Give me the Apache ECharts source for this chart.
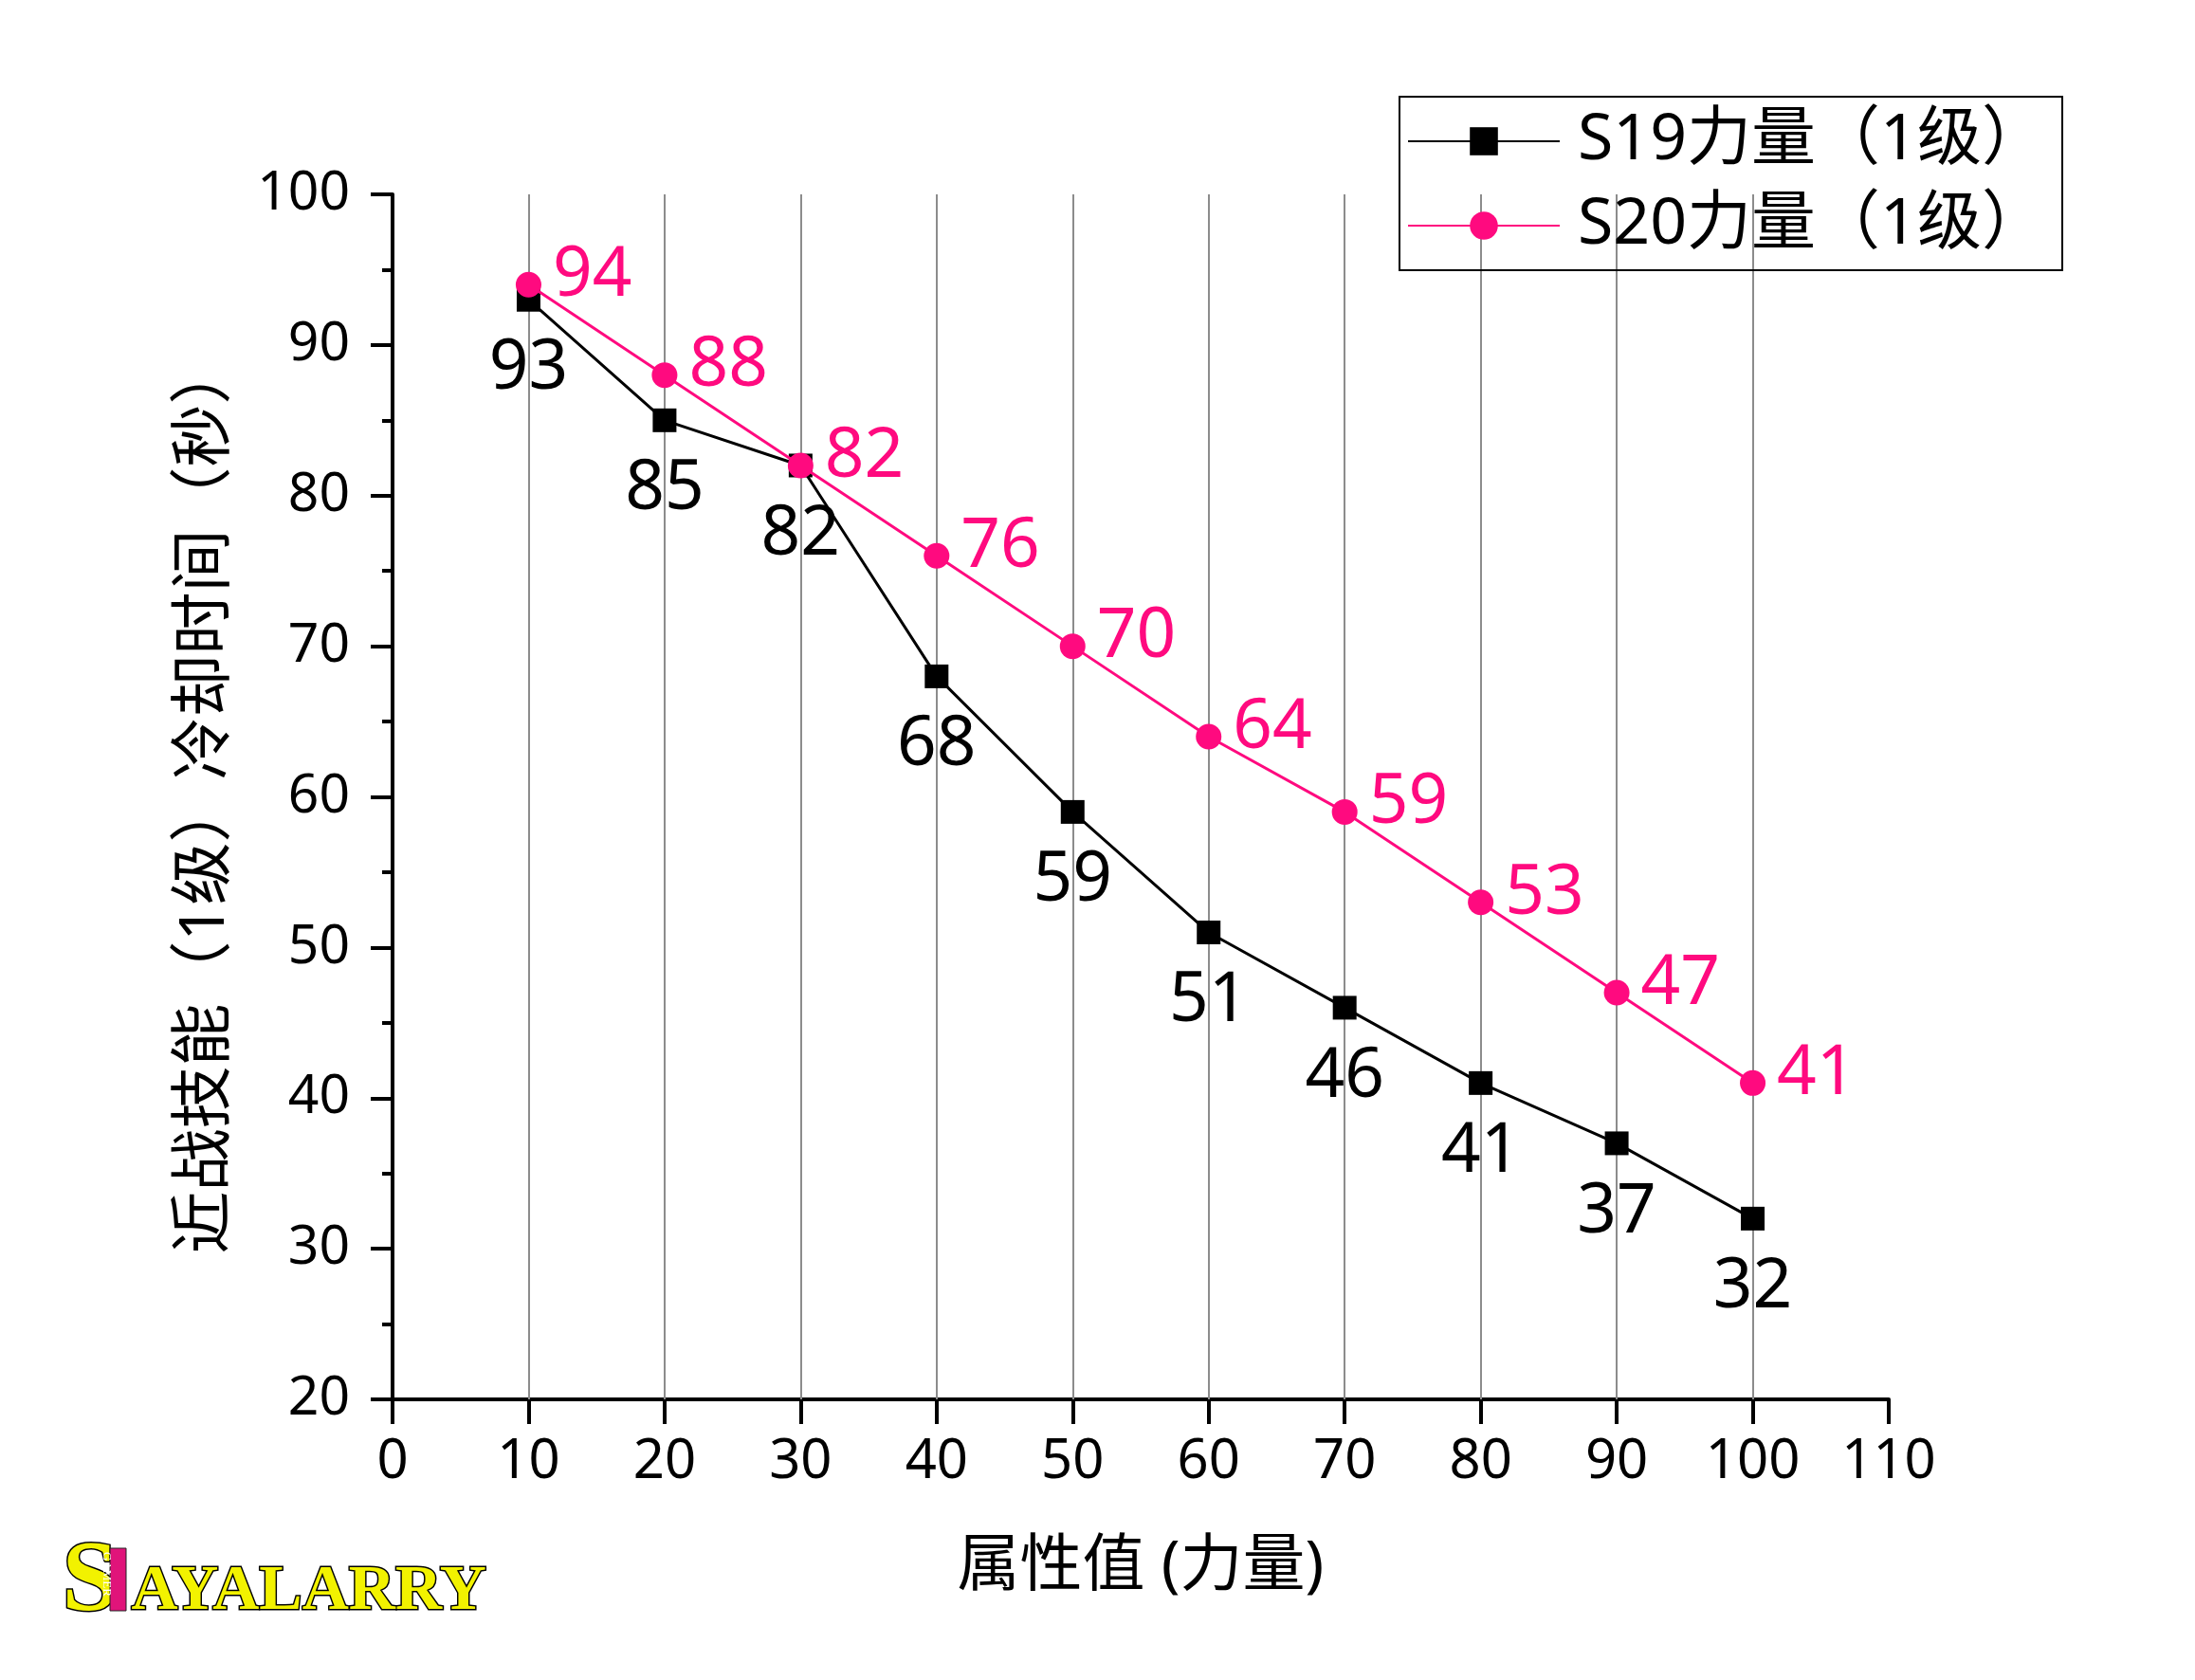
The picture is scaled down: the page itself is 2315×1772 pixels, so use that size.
<!DOCTYPE html>
<html>
<head>
<meta charset="utf-8">
<script src="https://cdn.jsdelivr.net/npm/echarts@6/dist/echarts.min.js"></script>
<style>
html,body{margin:0;padding:0;background:#fff;}
#c{width:2315px;height:1772px;}
</style>
</head>
<body>
<div id="c"></div>
<script>
const xValues = [10, 20, 30, 40, 50, 60, 70, 80, 90, 100];
const s19Values = [93, 85, 82, 68, 59, 51, 46, 41, 37, 32];
const s20Values = [94, 88, 82, 76, 70, 64, 59, 53, 47, 41];
const seriesNames = ['S19力量（1级）', 'S20力量（1级）'];
const gridXValues = [10, 20, 30, 40, 50, 60, 70, 80, 90, 100];
const xAxisName = '属性值 (力量)';
const yAxisName = '近战技能（1级）冷却时间（秒）';

const FONT = '"Noto Sans", "Noto Sans CJK SC", sans-serif';
const PINK = '#FF0A7F';

const chart = echarts.init(document.getElementById('c'), null, {renderer: 'canvas'});

const pair = (xs, ys) => xs.map((x, i) => [x, ys[i]]);

const option = {
  backgroundColor: '#fff',
  animation: false,
  grid: {left: 414, right: 323, top: 205, bottom: 296, containLabel: false},
  legend: {
    left: 1476, top: 102,
    orient: 'vertical',
    data: seriesNames,
    itemWidth: 160, itemHeight: 37,
    itemGap: 21,
    borderColor: '#000', borderWidth: 2,
    padding: [13, 17, 13, 8],
    textStyle: {fontFamily: FONT, fontSize: 68, color: '#000', padding: [0, 0, 0, 14]}
  },
  xAxis: {
    type: 'value', min: 0, max: 110, interval: 10,
    name: xAxisName, nameLocation: 'middle', nameGap: 144,
    nameTextStyle: {fontFamily: FONT, fontSize: 66, color: '#000'},
    axisLine: {show: true, onZero: false, lineStyle: {color: '#000', width: 4}},
    axisTick: {show: true, length: 26, lineStyle: {color: '#000', width: 4}},
    axisLabel: {fontFamily: FONT, fontSize: 58, color: '#000', margin: 37},
    splitLine: {show: false}
  },
  yAxis: {
    type: 'value', min: 20, max: 100, interval: 10,
    name: yAxisName, nameLocation: 'middle', nameGap: 164,
    nameTextStyle: {fontFamily: FONT, fontSize: 66, color: '#000', padding: [0, 2, 0, 0]},
    axisLine: {show: true, onZero: false, lineStyle: {color: '#000', width: 4}},
    axisTick: {show: true, length: 23, lineStyle: {color: '#000', width: 4}},
    minorTick: {show: true, splitNumber: 2, length: 11, lineStyle: {color: '#000', width: 4}},
    axisLabel: {fontFamily: FONT, fontSize: 57, color: '#000', margin: 45},
    splitLine: {show: false}
  },
  series: [
    {
      name: seriesNames[0], type: 'line', z: 3,
      data: pair(xValues, s19Values),
      symbol: 'rect', symbolSize: 25,
      itemStyle: {color: '#000'},
      lineStyle: {color: '#000', width: 3},
      label: {show: true, position: 'bottom', distance: 24, fontFamily: FONT, fontSize: 73, color: '#000'},
      markLine: {
        silent: true, symbol: 'none', z: 1,
        label: {show: false},
        lineStyle: {color: '#8c8c8c', width: 2, type: 'solid'},
        data: gridXValues.map(v => ({xAxis: v}))
      }
    },
    {
      name: seriesNames[1], type: 'line', z: 4,
      data: pair(xValues, s20Values),
      symbol: 'circle', symbolSize: 27,
      itemStyle: {color: PINK},
      lineStyle: {color: PINK, width: 3},
      label: {show: true, position: 'right', distance: 12, offset: [0, -9], fontFamily: FONT, fontSize: 73, color: PINK}
    }
  ],
  graphic: [
    {
      type: 'text', left: 64, top: 1616, z: 10,
      style: {text: 'S', font: 'bold 106px "Liberation Serif", serif', fill: '#F2F200', stroke: '#000', lineWidth: 3,
              shadowColor: 'rgba(255,120,60,0.6)', shadowBlur: 6}
    },
    {
      type: 'rect', shape: {x: 116, y: 1633, width: 17, height: 66}, z: 10,
      style: {fill: '#E0147A', stroke: '#222', lineWidth: 1}
    },
    {
      type: 'text', x: 119, y: 1637, rotation: -Math.PI / 2, z: 11,
      style: {text: 'GAMER', font: '13px "Liberation Serif", serif', fill: '#fff'}
    },
    {
      type: 'text', left: 137, top: 1644, z: 10,
      style: {text: 'AYALARRY', font: 'bold 68px "Liberation Serif", serif', fill: '#F2F200', stroke: '#000', lineWidth: 3,
              shadowColor: 'rgba(255,120,60,0.6)', shadowBlur: 6}
    },
    {
      type: 'text', left: 2060, top: 1640, z: 10,
      style: {text: '小黑盒', font: '62px "Noto Sans CJK SC", sans-serif', fill: '#ffffff',
              shadowColor: 'rgba(0,0,0,0.22)', shadowBlur: 8}
    }
  ]
};

chart.setOption(option);
</script>
</body>
</html>
